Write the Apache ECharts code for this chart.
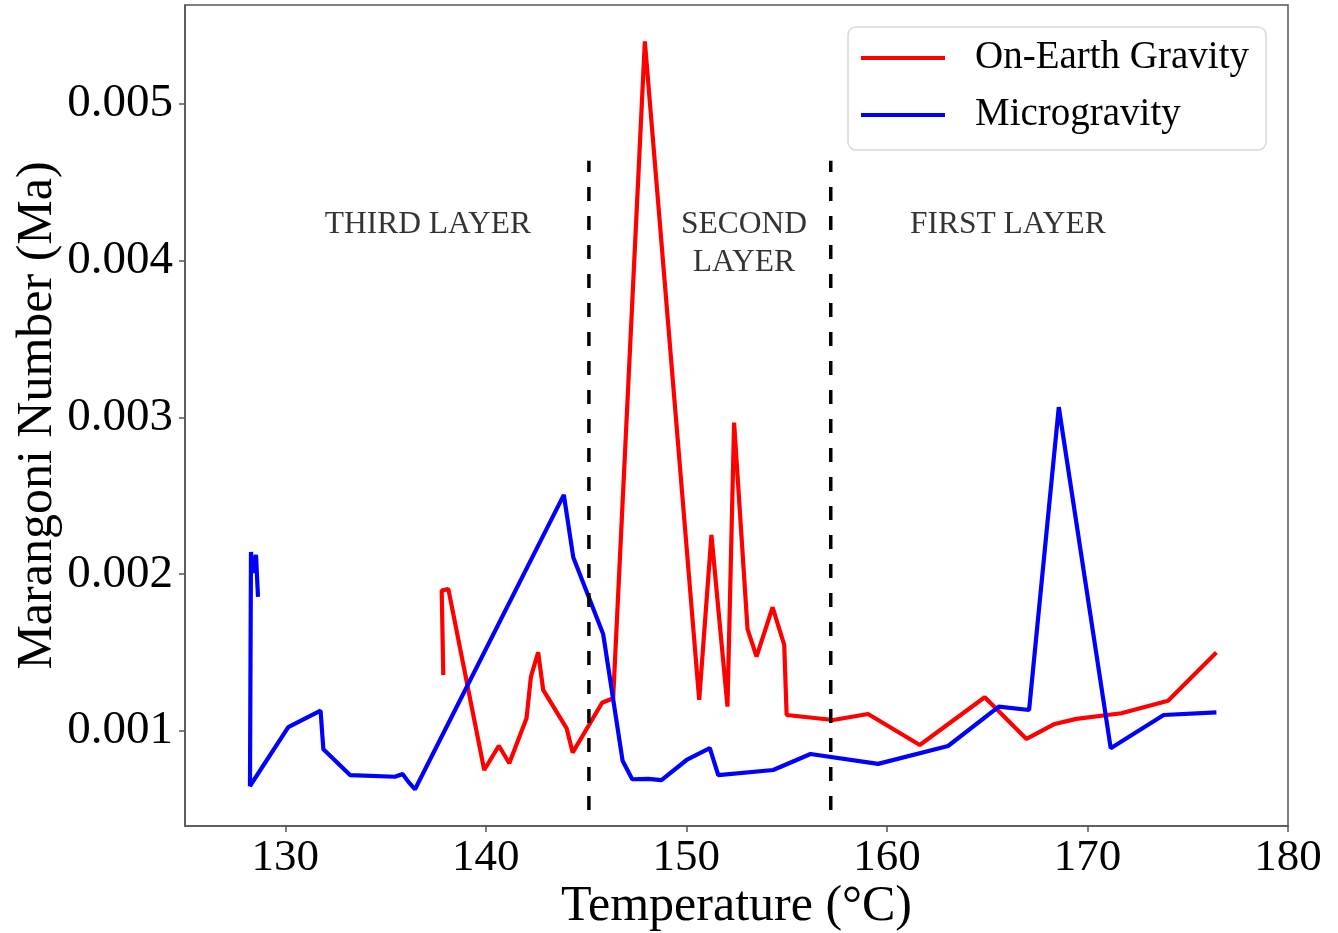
<!DOCTYPE html>
<html>
<head>
<meta charset="utf-8">
<script src="https://cdn.jsdelivr.net/npm/echarts@6/dist/echarts.min.js"></script>
<style>
  html, body { margin: 0; padding: 0; background: #fff; }
  #chart { width: 1338px; height: 933px; }
</style>
</head>
<body>
<div id="chart"></div>
<script>
// Marangoni number vs temperature, two gravity conditions (points in recorded order)
const earthTemp = [137.88, 137.80, 138.13, 139.92, 140.65, 141.17, 142.03, 142.25, 142.61, 142.86,
  144.03, 144.33, 145.80, 146.35, 147.93, 150.64, 151.25, 152.05, 152.38, 153.05,
  153.50, 154.30, 154.88, 155.00, 157.32, 159.06, 161.64, 164.88, 166.96, 168.37,
  169.45, 171.69, 174.02, 176.43];
const earthMa = [0.001357, 0.001895, 0.001906, 0.000751, 0.000906, 0.000794, 0.001081, 0.001347, 0.001502, 0.001262,
  0.001017, 0.000862, 0.001180, 0.001209, 0.005398, 0.001198, 0.002250, 0.001155, 0.002967, 0.001649,
  0.001474, 0.001789, 0.001549, 0.001102, 0.001070, 0.001108, 0.000911, 0.001215, 0.000949, 0.001045,
  0.001077, 0.001113, 0.001193, 0.001500];

const microTemp = [128.64, 128.54, 128.39, 128.29, 128.24, 130.15, 131.76, 131.90, 133.23, 135.47,
  135.85, 136.13, 136.47, 143.89, 144.36, 145.85, 146.82, 147.30, 148.10, 148.76,
  150.01, 151.17, 151.59, 154.33, 156.19, 159.56, 163.05, 165.58, 167.09, 168.57,
  171.16, 173.80, 176.43];
const microMa = [0.001855, 0.002123, 0.002008, 0.002142, 0.000649, 0.001024, 0.001130, 0.000883, 0.000719, 0.000708,
  0.000726, 0.000677, 0.000628, 0.002506, 0.002108, 0.001619, 0.000810, 0.000692, 0.000694, 0.000687,
  0.000815, 0.000890, 0.000719, 0.000751, 0.000853, 0.000790, 0.000904, 0.001155, 0.001134, 0.003065,
  0.000890, 0.001102, 0.001119];

// Layer boundaries (temperature) and the vertical extent of the dashed separators
const layerBounds = [145.14, 157.20];
const boundSpan = [0.000496, 0.004636];

// Layer captions placed in data coordinates
const layerNames = ['THIRD LAYER', 'SECOND\nLAYER', 'FIRST LAYER'];
const layerTemp = [137.11, 152.87, 166.03];
const layerMa = [0.004228, 0.004107, 0.004228];

const xTicks = [130, 140, 150, 160, 170, 180];
const yTicks = [0.001, 0.002, 0.003, 0.004, 0.005];

const FONT = "'Liberation Serif', 'Times New Roman', serif";
const zip = (a, b) => a.map((v, i) => [v, b[i]]);

const series = [
  {
    name: 'On-Earth Gravity', type: 'line', data: zip(earthTemp, earthMa),
    showSymbol: false, lineStyle: { color: '#ff0000', width: 4.2 }, itemStyle: { color: '#ff0000' },
    z: 3
  },
  {
    name: 'Microgravity', type: 'line', data: zip(microTemp, microMa),
    showSymbol: false, lineStyle: { color: '#0000ff', width: 4.2 }, itemStyle: { color: '#0000ff' },
    z: 4
  }
];
layerBounds.forEach((t, i) => {
  series.push({
    name: 'bound' + i, type: 'line', data: boundSpan.map(v => [t, v]),
    showSymbol: false, silent: true, z: 5,
    lineStyle: { color: '#000', width: 3.5, type: [14, 15] }
  });
});
series.push({
  name: 'captions', type: 'scatter', symbolSize: 0, silent: true,
  data: layerTemp.map((t, i) => [t, layerMa[i], layerNames[i]]),
  label: {
    show: true, position: 'inside', formatter: p => p.data[2],
    fontFamily: FONT, fontSize: 31.5, color: '#000', lineHeight: 38, align: 'center'
  }
});

const chart = echarts.init(document.getElementById('chart'), null, { renderer: 'canvas' });
chart.setOption({
  animation: false,
  backgroundColor: '#fff',
  grid: {
    left: 185, right: 50, top: 5, bottom: 107,
    containLabel: false, outerBoundsMode: 'none',
    show: true, borderColor: '#555', borderWidth: 1.5, backgroundColor: 'transparent'
  },
  legend: {
    data: ['On-Earth Gravity', 'Microgravity'],
    orient: 'vertical', left: 848, top: 27,
    icon: 'rect', itemWidth: 84, itemHeight: 4, itemGap: 17,
    padding: [11, 17, 15, 13],
    borderColor: '#d8d8d8', borderWidth: 1.5, borderRadius: 8, backgroundColor: '#fff',
    textStyle: { fontFamily: FONT, fontSize: 39, lineHeight: 40, color: '#000', padding: [0, 0, 0, 25] }
  },
  xAxis: {
    type: 'value', min: 125, max: 180,
    name: 'Temperature (°C)', nameLocation: 'middle', nameGap: 56, nameMoveOverlap: false,
    nameTextStyle: { fontFamily: FONT, fontSize: 50, color: '#000' },
    axisLine: { show: true, lineStyle: { color: '#555', width: 1.5 } },
    axisTick: { show: true, length: 6, lineStyle: { color: '#555', width: 1.5 }, customValues: xTicks },
    axisLabel: { fontFamily: FONT, fontSize: 45, color: '#000', margin: 10, customValues: xTicks },
    splitLine: { show: false }
  },
  yAxis: {
    type: 'value', min: 0.000394, max: 0.00563,
    name: 'Marangoni Number (Ma)', nameLocation: 'middle', nameGap: 122, nameMoveOverlap: false,
    nameTextStyle: { fontFamily: FONT, fontSize: 50, color: '#000' },
    axisLine: { show: true, lineStyle: { color: '#555', width: 1.5 } },
    axisTick: { show: true, length: 6, lineStyle: { color: '#555', width: 1.5 }, customValues: yTicks },
    axisLabel: { fontFamily: FONT, fontSize: 47, color: '#000', margin: 12,
      customValues: yTicks, formatter: v => v.toFixed(3) },
    splitLine: { show: false }
  },
  series: series
});
</script>
</body>
</html>
